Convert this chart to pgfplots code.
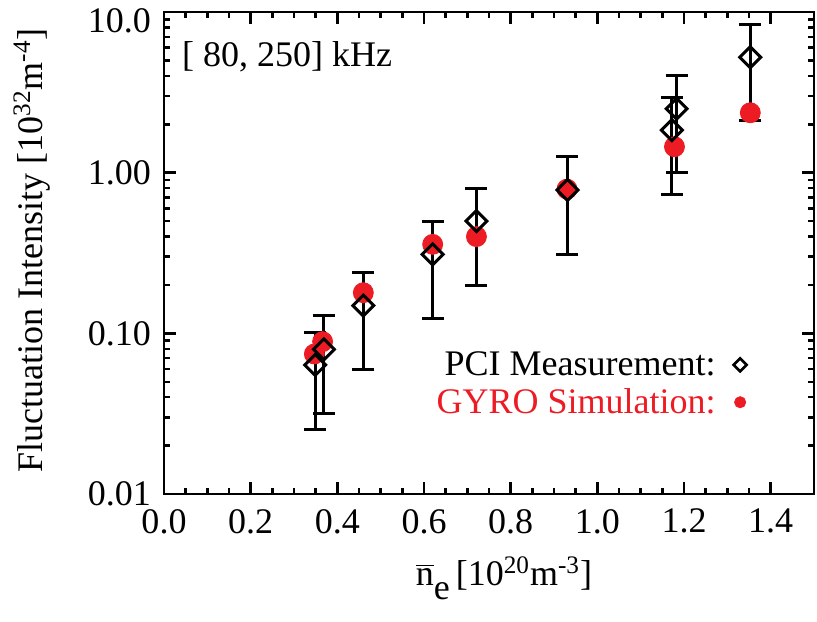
\documentclass[border=0pt]{standalone}
\usepackage{pgfplots}
\pgfplotsset{compat=1.18}
\usepackage{pgfplotstable}
\usepackage{fontspec}
\setmainfont{Liberation Serif}
\definecolor{gyrored}{RGB}{237,28,36}

% PCI measurement: density, intensity, upper / lower error
\pgfplotstableread{
x      y       ep      em
0.349  0.0636  0.0380  0.0383
0.369  0.0796  0.0494  0.0481
0.460  0.149   0.091   0.0892
0.620  0.310   0.186   0.187
0.721  0.500   0.300   0.301
0.931  0.780   0.480   0.470
1.172  1.84    1.10    1.106
1.183  2.50    1.50    1.50
1.353  5.23    3.15    3.13
}\pcidata

% GYRO simulation
\pgfplotstableread{
x      y
0.347  0.0744
0.366  0.0888
0.460  0.179
0.620  0.358
0.721  0.400
0.930  0.790
1.178  1.45
1.353  2.36
}\gyrodata

\begin{document}
\begin{tikzpicture}[font=\fontsize{18}{21}\selectfont]
\begin{axis}[
  anchor=south west,
  at={(0,0)},
  width=325pt, height=241pt, scale only axis,
  xmin=0, xmax=1.5,
  ymode=log, ymin=0.01, ymax=10,
  xtick={0,0.2,0.4,0.6,0.8,1.0,1.2,1.4},
  xticklabels={0.0,0.2,0.4,0.6,0.8,1.0,1.2,1.4},
  minor x tick num=3,
  ytick={0.01,0.1,1,10},
  yticklabels={0.01,0.10,1.00,\raisebox{-10pt}[0pt][0pt]{10.0}},
  minor ytick={0.02,0.03,0.04,0.05,0.06,0.07,0.08,0.09,
               0.2,0.3,0.4,0.5,0.6,0.7,0.8,0.9,
               2,3,4,5,6,7,8,9},
  tick align=inside,
  major tick length=6pt,
  minor tick length=3.2pt,
  axis line style={line width=1.4pt},
  major tick style={line width=1.2pt, black},
  minor tick style={line width=1.2pt, black},
  xticklabel style={yshift=-4pt},
  yticklabel style={xshift=-3pt},
  clip=false,
  legend plot pos=right,
  legend cell align=right,
  legend style={draw=none, fill=none, at={(rel axis cs:0.897,0.305)}, anchor=north east,
                row sep=1pt, column sep=7pt, inner sep=0pt},
]
% legend symbols
\addlegendimage{only marks, mark=square, mark options={rotate=45, line width=1.3pt, mark size=2.3pt, black}}
\addlegendentry{PCI Measurement:}
\addlegendimage{only marks, mark=*, mark options={mark size=2.8pt, gyrored, draw=gyrored, fill=gyrored}}
\addlegendentry{\textcolor{gyrored}{GYRO Simulation:}}

% simulation points
\addplot[forget plot, only marks, mark=*, mark size=5pt,
         mark options={draw=gyrored, fill=gyrored}] table[x=x, y=y] {\gyrodata};

% measurement points with error bars
\addplot[forget plot, only marks, mark=square,
         mark options={rotate=45, line width=1.5pt, mark size=3.7pt, black, fill=none},
         error bars/.cd, y dir=both, y explicit,
         error bar style={line width=1.5pt, black},
         error mark options={line width=1.5pt, mark size=5.5pt, black, rotate=90}]
  table[x=x, y=y, y error plus=ep, y error minus=em] {\pcidata};

\node[anchor=west] at (rel axis cs:0.017,0.907) {[ 80, 250] kHz};

\node[anchor=base] at (rel axis cs:0.523,-0.19)
  {$\overline{\mbox{n}}$\raisebox{-0.4em}{e}\,[10\textsuperscript{20}m\textsuperscript{-3}]};
\node[rotate=90, anchor=center] at (rel axis cs:-0.203,0.506)
  {Fluctuation Intensity [10\textsuperscript{32}m\textsuperscript{-4}]};
\end{axis}
\pgfresetboundingbox
\path (-82pt,-63.5pt) rectangle (326.5pt,247pt);
\end{tikzpicture}
\end{document}
